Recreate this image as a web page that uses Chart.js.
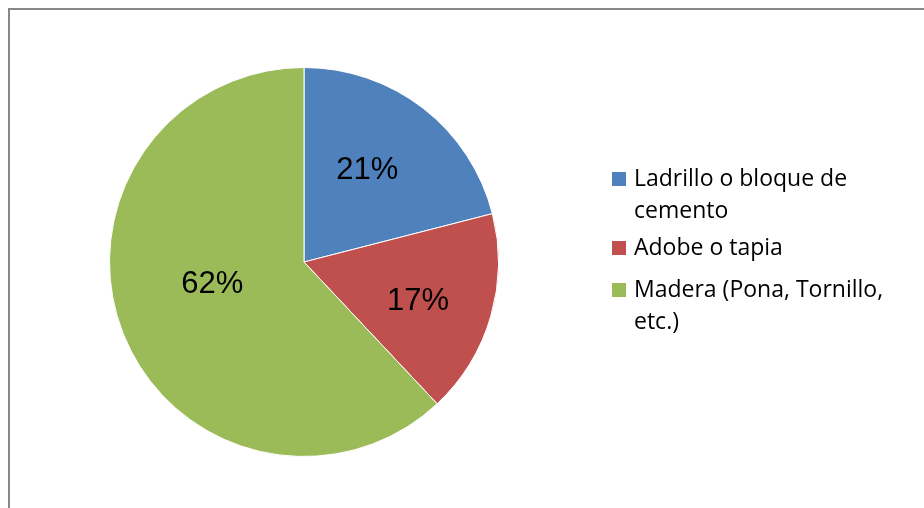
<!DOCTYPE html>
<html>
<head>
    <title>Chart</title>
    <script src="https://cdn.jsdelivr.net/npm/chart.js"></script>
    <style>
        body { margin: 0; background: #fff; overflow: hidden; }
        .frame {
            position: absolute; left: 8px; top: 8px;
            width: 1000px; height: 600px;
            border-top: 2px solid #878787;
            border-left: 2px solid #878787;
        }
    </style>
</head>
<body>
    <div class="frame"></div>
    <div style="position: absolute; left: 0; top: 0; width: 924px; height: 508px;">
        <canvas id="pie"></canvas>
    </div>
    <script>
        // data
        var labels = [['Ladrillo o bloque de', 'cemento'], ['Adobe o tapia'], ['Madera (Pona, Tornillo,', 'etc.)']]
        var values = [21, 17, 62]
        var colors = ['#4F81BD', '#C0504D', '#9BBB59']
        var labelRadius = [0.573, 0.62, 0.486] // how far out the % text sits
        var labelTurn = [-3.2, 2.7, 7.6]         // degrees off the slice middle

        // percent text inside slices
        var pctLabels = {
            id: 'pctLabels',
            afterDatasetsDraw(chart) {
                var ctx = chart.ctx
                var meta = chart.getDatasetMeta(0)
                ctx.save()
                ctx.font = '31px "Liberation Sans", Arial, sans-serif'
                ctx.fillStyle = '#000'
                ctx.textAlign = 'center'
                ctx.textBaseline = 'middle'
                meta.data.forEach(function(arc, i) {
                    var p = arc.getProps(['x', 'y', 'startAngle', 'endAngle', 'outerRadius'], true)
                    var a = (p.startAngle + p.endAngle) / 2 + labelTurn[i] * Math.PI / 180
                    var r = p.outerRadius * labelRadius[i]
                    ctx.fillText(values[i] + '%', p.x + Math.cos(a) * r, p.y + Math.sin(a) * r)
                })
                ctx.restore()
            }
        }

        // legend on the right, with wrapped lines
        var sideLegend = {
            id: 'sideLegend',
            afterDraw(chart) {
                var ctx = chart.ctx
                var rows = [179, 248, 290] // first line centre of each entry
                ctx.save()
                ctx.font = '23px "Open Sans", sans-serif'
                ctx.textBaseline = 'middle'
                labels.forEach(function(lines, i) {
                    ctx.fillStyle = colors[i]
                    ctx.fillRect(612, rows[i] - 7, 14, 14)
                    ctx.fillStyle = '#000'
                    lines.forEach(function(t, j) {
                        ctx.fillText(t, 634, rows[i] + j * 32)
                    })
                })
                ctx.restore()
            }
        }

        var ctx = document.getElementById('pie').getContext('2d')
        var chart_pie = new Chart(ctx, {
            type: 'pie',
            data: {
                labels: labels,
                datasets: [{
                    data: values,
                    backgroundColor: colors,
                    borderColor: '#fff',
                    borderWidth: 1
                }]
            },
            options: {
                responsive: true,
                maintainAspectRatio: false,
                animation: false,
                layout: { padding: { left: 109, right: 425, top: 67, bottom: 51 } },
                plugins: {
                    legend: { display: false },
                    tooltip: { enabled: false }
                }
            },
            plugins: [pctLabels, sideLegend]
        })
    </script>
</body>
</html>
